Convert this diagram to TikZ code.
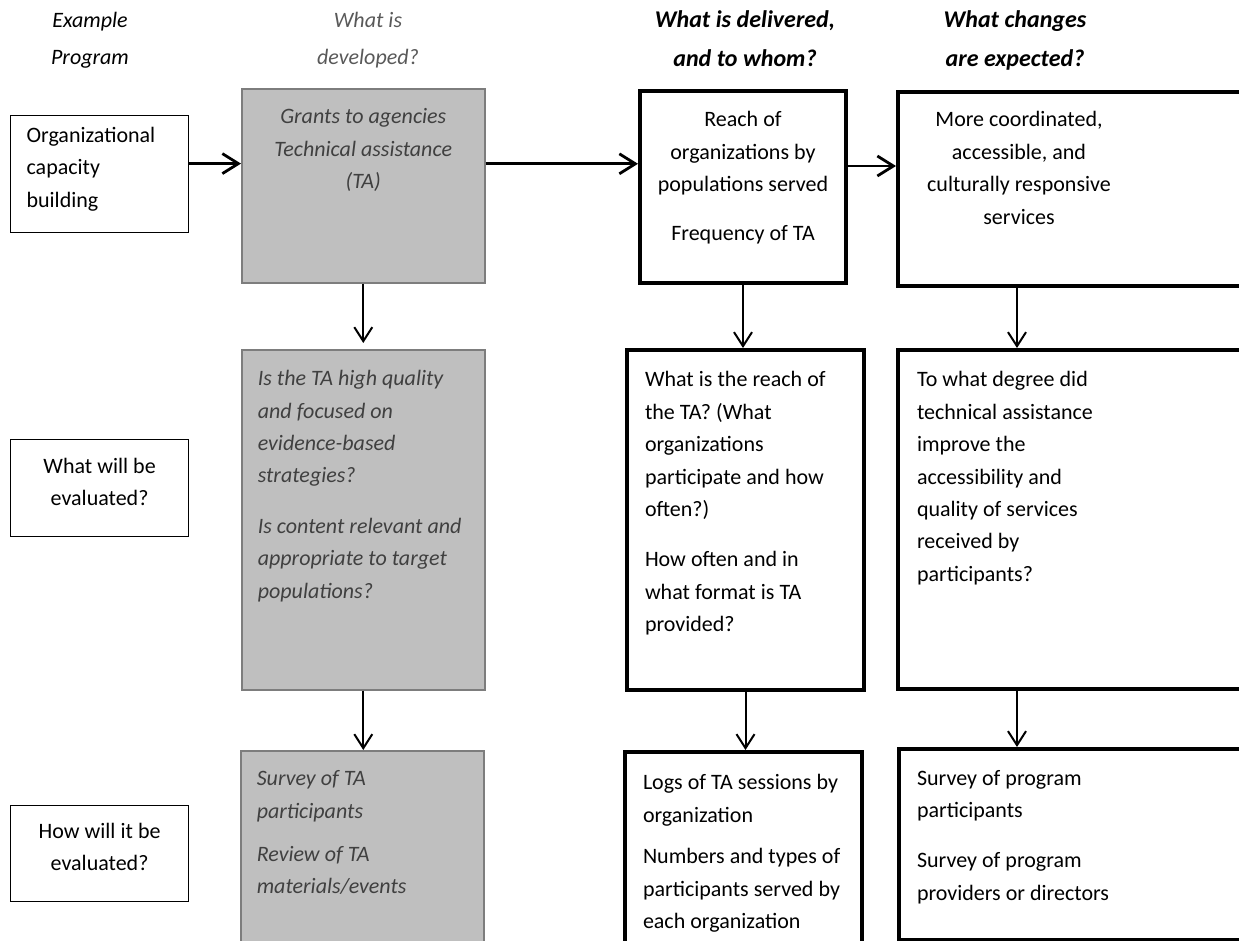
\documentclass[tikz,border=0pt]{standalone}
\usepackage{fontspec}
\setmainfont{Carlito}[WordSpace=0.7]
\definecolor{boxgrey}{RGB}{191,191,191}
\definecolor{edgegrey}{RGB}{125,125,125}
\definecolor{textgrey}{RGB}{64,64,64}
\definecolor{headgrey}{RGB}{89,89,89}
\usetikzlibrary{arrows.meta}
\newcommand{\bodysize}{\fontsize{11}{16.2}\selectfont}

\begin{document}
\begin{tikzpicture}[x=0.5pt, y=-0.5pt, every node/.style={font=\bodysize},
    plainbox/.style={draw=black, line width=0.6pt, fill=white, anchor=north west, inner ysep=0pt},
    greybox/.style={draw=edgegrey, line width=0.8pt, fill=boxgrey, text=textgrey, font=\bodysize\itshape, anchor=north west, inner ysep=0pt},
    boldbox/.style={draw=black, line width=2pt, fill=white, anchor=north west, inner ysep=0pt},
    lefttext/.style={execute at begin node={\raggedright\spaceskip=0.23em\relax}},
    midtext/.style={execute at begin node={\centering\spaceskip=0.23em\relax}},
    colhead/.style={anchor=north, inner sep=0pt, text width=140pt, midtext, text height=12pt, font=\fontsize{11}{18.5}\selectfont\itshape},
    boldhead/.style={font=\fontsize{12}{19.5}\selectfont\bfseries\itshape},
    harrow/.style={-{Straight Barb[length=8pt,width=10pt]}, line width=1.4pt},
    varrow/.style={-{Straight Barb[length=7pt,width=9pt]}, line width=1pt}]
    \path[use as bounding box, clip] (0,0) rectangle (1239,941);

    % Column heads
    \node[colhead] (hprog) at (90,3) {Example\\Program};
    \node[colhead, text=headgrey] (hdev) at (368,3) {What is\\developed?};
    \node[colhead, boldhead] (hdeliv) at (745,3) {What is delivered,\\and to whom?};
    \node[colhead, boldhead] (hchange) at (1015,3) {What changes\\are expected?};

    % Top row
    \node[plainbox, text width=73pt, inner xsep=8pt, text height=13.5pt, text depth=45pt, lefttext] (org) at (10,115) {Organizational\\capacity\\building};
    \node[greybox, text width=105.5pt, inner xsep=8pt, text height=17.5pt, text depth=79.5pt, midtext] (dev) at (241,88) {Grants to agencies\\Technical assistance\\(TA)};
    \node[boldbox, text width=87pt, inner xsep=8pt, text height=18pt, text depth=78pt, midtext] (deliv) at (638,89) {Reach of\\organizations by\\populations served\\[8pt]Frequency of TA};
    \node[boldbox, text width=167pt, inner xsep=8pt, text height=17.5pt, text depth=79.5pt, lefttext] (change) at (896,90) {\parbox[t]{105pt}{\centering\spaceskip=0.23em More coordinated,\\accessible, and\\culturally responsive\\services}};

    % Middle row
    \node[plainbox, text width=73pt, inner xsep=8pt, text height=17pt, text depth=31.5pt, midtext] (eval) at (10,439) {What will be\\evaluated?};
    \node[greybox, text width=105.5pt, inner xsep=8pt, text height=18pt, text depth=152pt, lefttext] (devq) at (241,349) {Is the TA high quality\\and focused on\\evidence-based\\strategies?\\[9pt]Is content relevant and\\appropriate to target\\populations?};
    \node[boldbox, text width=100.5pt, inner xsep=9pt, text height=18.5pt, text depth=151.5pt, lefttext] (delivq) at (625,348) {What is the reach of\\the TA? (What\\organizations\\participate and how\\often?)\\[9pt]How often and in\\what format is TA\\provided?};
    \node[boldbox, text width=164pt, inner xsep=9.5pt, text height=18.5pt, text depth=151pt, lefttext] (changeq) at (896,348) {To what degree did\\technical assistance\\improve the\\accessibility and\\quality of services\\received by\\participants?};

    % Bottom row
    \node[plainbox, text width=73pt, inner xsep=8pt, text height=16.5pt, text depth=31.5pt, midtext] (how) at (10,805) {How will it be\\evaluated?};
    \node[greybox, text width=105.5pt, inner xsep=8pt, text height=17.5pt, text depth=87.5pt, lefttext] (devm) at (240,750) {Survey of TA\\participants\\[5.5pt]Review of TA\\materials/events};
    \node[boldbox, text width=100.5pt, inner xsep=9pt, text height=19pt, text depth=86pt, lefttext] (logs) at (623,750) {Logs of TA sessions by\\organization\\[4.5pt]Numbers and types of\\participants served by\\each organization};
    \node[boldbox, text width=164.5pt, inner xsep=9pt, text height=18pt, text depth=77.5pt, lefttext] (survey) at (897,747) {Survey of program\\participants\\[9pt]Survey of program\\providers or directors};

    % Arrows across
    \draw[harrow] ([yshift=5.25pt]org.east) -- ([yshift=5.25pt]org.east -| dev.west);
    \draw[harrow] ([yshift=11pt]dev.east) -- ([yshift=11pt]dev.east -| deliv.west);
    \draw[harrow] ([yshift=10.5pt]deliv.east) -- ([yshift=10.5pt]deliv.east -| change.west);

    % Arrows down
    \draw[varrow, shorten >=3pt] (dev.south) -- (devq.north);
    \draw[varrow] (devq.south) -- (devq.south |- devm.north);
    \draw[varrow] (deliv.south) -- (deliv.south |- delivq.north);
    \draw[varrow] (delivq.south) -- (delivq.south |- logs.north);
    \draw[varrow] ([xshift=60.5pt]change.south west) -- ([xshift=60.5pt]change.south west |- changeq.north);
    \draw[varrow] ([xshift=60.5pt]changeq.south west) -- ([xshift=60.5pt]changeq.south west |- survey.north);
\end{tikzpicture}
\end{document}
